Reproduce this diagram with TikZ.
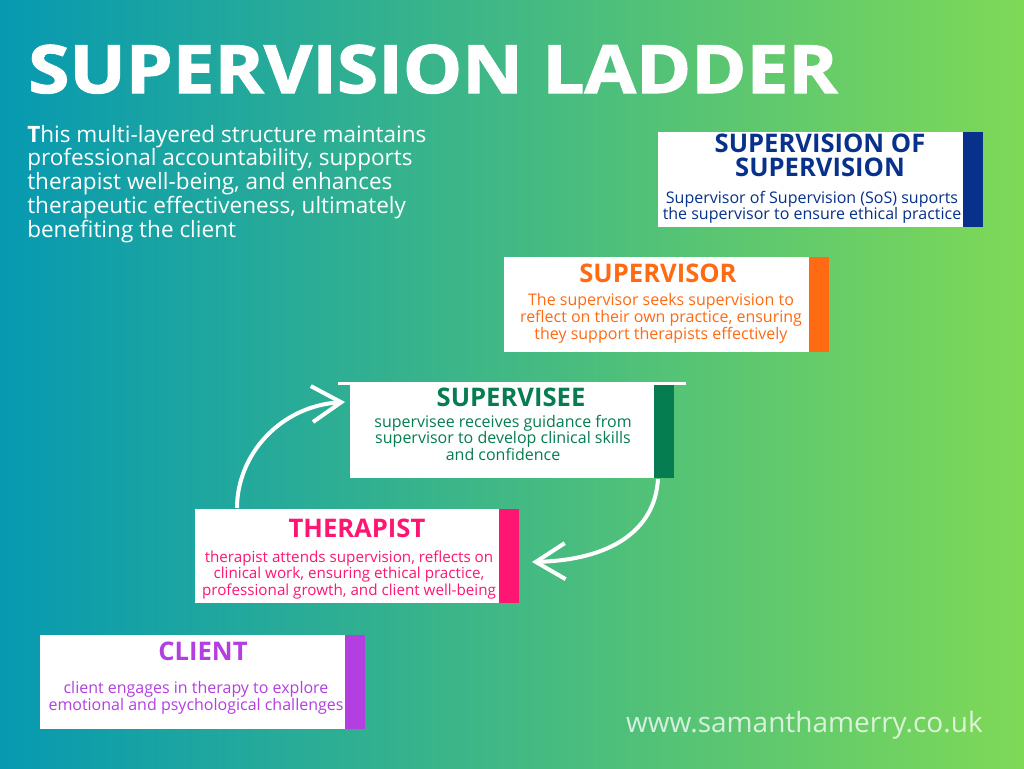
\documentclass[tikz,border=0pt]{standalone}
\usepackage{fontspec}
\setmainfont{Open Sans}
\newfontfamily\titlef[BoldFeatures={FakeBold=1.6}]{Open Sans}
\usetikzlibrary{arrows.meta,calc}
\definecolor{bgL}{HTML}{0699B1}
\definecolor{bgR}{HTML}{7ED957}
\definecolor{cNavy}{HTML}{07318A}
\definecolor{cOrange}{HTML}{FF6A13}
\definecolor{cGreen}{HTML}{067D50}
\definecolor{cPink}{HTML}{FF1673}
\definecolor{cPurple}{HTML}{B33FE1}
\newcommand\lns[1]{\parbox[t]{400pt}{\centering #1}}
\begin{document}
\begin{tikzpicture}[x=0.75pt,y=-0.75pt,
  card/.style={fill=white, draw=none, anchor=north west, inner sep=0pt, outer sep=0pt, minimum width=305*0.75pt, minimum height=94*0.75pt},
  bar/.style={fill=#1, draw=none, anchor=north west, inner sep=0pt, outer sep=0pt, minimum width=20*0.75pt, minimum height=94*0.75pt},
  ctitle/.style={text=#1, anchor=base, inner sep=0pt, font=\fontsize{19.2}{18}\selectfont\bfseries},
  cbody/.style={text=#1, anchor=base, inner sep=0pt, font=\fontsize{12}{12}\selectfont},
  loop/.style={draw=white, line width=3pt, -{Straight Barb[length=22pt,width=27pt,line width=3pt]}}
]
\useasboundingbox (0,0) rectangle (1024,768);
\shade[left color=bgL, right color=bgR] (0,0) rectangle (1024,768);

% title
\node[anchor=base west, inner sep=0pt, text=white, font=\fontsize{50}{52}\selectfont\titlef\bfseries] (title) at (28,93) {\resizebox{607pt}{\height}{SUPERVISION LADDER}};
\node[anchor=base west, inner sep=0pt, text=white, font=\fontsize{16.9}{16.2}\selectfont] (intro) at (27,142)
  {\parbox[t]{420pt}{\raggedright\textbf{T}his multi-layered structure maintains\\professional accountability, supports\\therapist well-being, and enhances\\therapeutic effectiveness, ultimately\\benefiting the client}};

% cards
\node[card, minimum height=95*0.75pt] (sos) at (658,132) {};
\node[bar=cNavy, minimum height=95*0.75pt] (sosbar) at (sos.north east) {};
\node[ctitle=cNavy] (sost) at (820,152) {\lns{SUPERVISION OF\\SUPERVISION}};
\node[cbody=cNavy] (sosb) at (812,203) {\lns{Supervisor of Supervision (SoS) suports\\the supervisor to ensure ethical practice}};

\node[card, minimum height=95*0.75pt] (sup) at (504,257) {};
\node[bar=cOrange, minimum height=95*0.75pt] (supbar) at (sup.north east) {};
\node[ctitle=cOrange] (supt) at (658,282) {SUPERVISOR};
\node[cbody=cOrange] (supb) at (661,305) {\lns{The supervisor seeks supervision to\\reflect on their own practice, ensuring\\they support therapists effectively}};

\draw[white, line width=2.6pt] (338,383.5) -- (686,383.5);
\node[card, minimum width=304*0.75pt, minimum height=93*0.75pt] (see) at (350,385) {};
\node[bar=cGreen, minimum height=93*0.75pt] (seebar) at (see.north east) {};
\node[ctitle=cGreen] (seet) at (511,406) {SUPERVISEE};
\node[cbody=cGreen] (seeb) at (503,427) {\lns{supervisee receives guidance from\\supervisor to develop clinical skills\\and confidence}};

\node[card, minimum width=304*0.75pt] (ther) at (195,509) {};
\node[bar=cPink] (therbar) at (ther.north east) {};
\node[ctitle=cPink] (thert) at (357,537) {THERAPIST};
\node[cbody=cPink, font=\fontsize{11.4}{10.9}\selectfont] (therb) at (349,562) {\lns{therapist attends supervision, reflects on\\clinical work, ensuring ethical practice,\\professional growth, and client well-being}};

\node[card] (cli) at (40,635) {};
\node[bar=cPurple] (clibar) at (cli.north east) {};
\node[ctitle=cPurple] (clit) at (203,660) {CLIENT};
\node[cbody=cPurple, font=\fontsize{12}{11.25}\selectfont] (clib) at (196,693) {\lns{client engages in therapy to explore\\emotional and psychological challenges}};

% url
\node[anchor=base east, inner sep=0pt, text=white, text opacity=0.75, font=\fontsize{21}{22}\selectfont] (url) at (983,732) {www.samanthamerry.co.uk};

% arrows
\coordinate (a1s) at ($(ther.north west)+(42,-1)$);
\coordinate (a1e) at ($(see.north west)+(-5,17)$);
\draw[loop] (a1s) .. controls +(0,-53) and +(-65,4) .. (a1e);
\coordinate (a2s) at ($(seebar.south west)+(4,1)$);
\coordinate (a2e) at ($(therbar.east)+(13,6)$);
\draw[loop] (a2s) .. controls +(-3,52) and +(78,-2) .. (a2e);
\end{tikzpicture}
\end{document}
